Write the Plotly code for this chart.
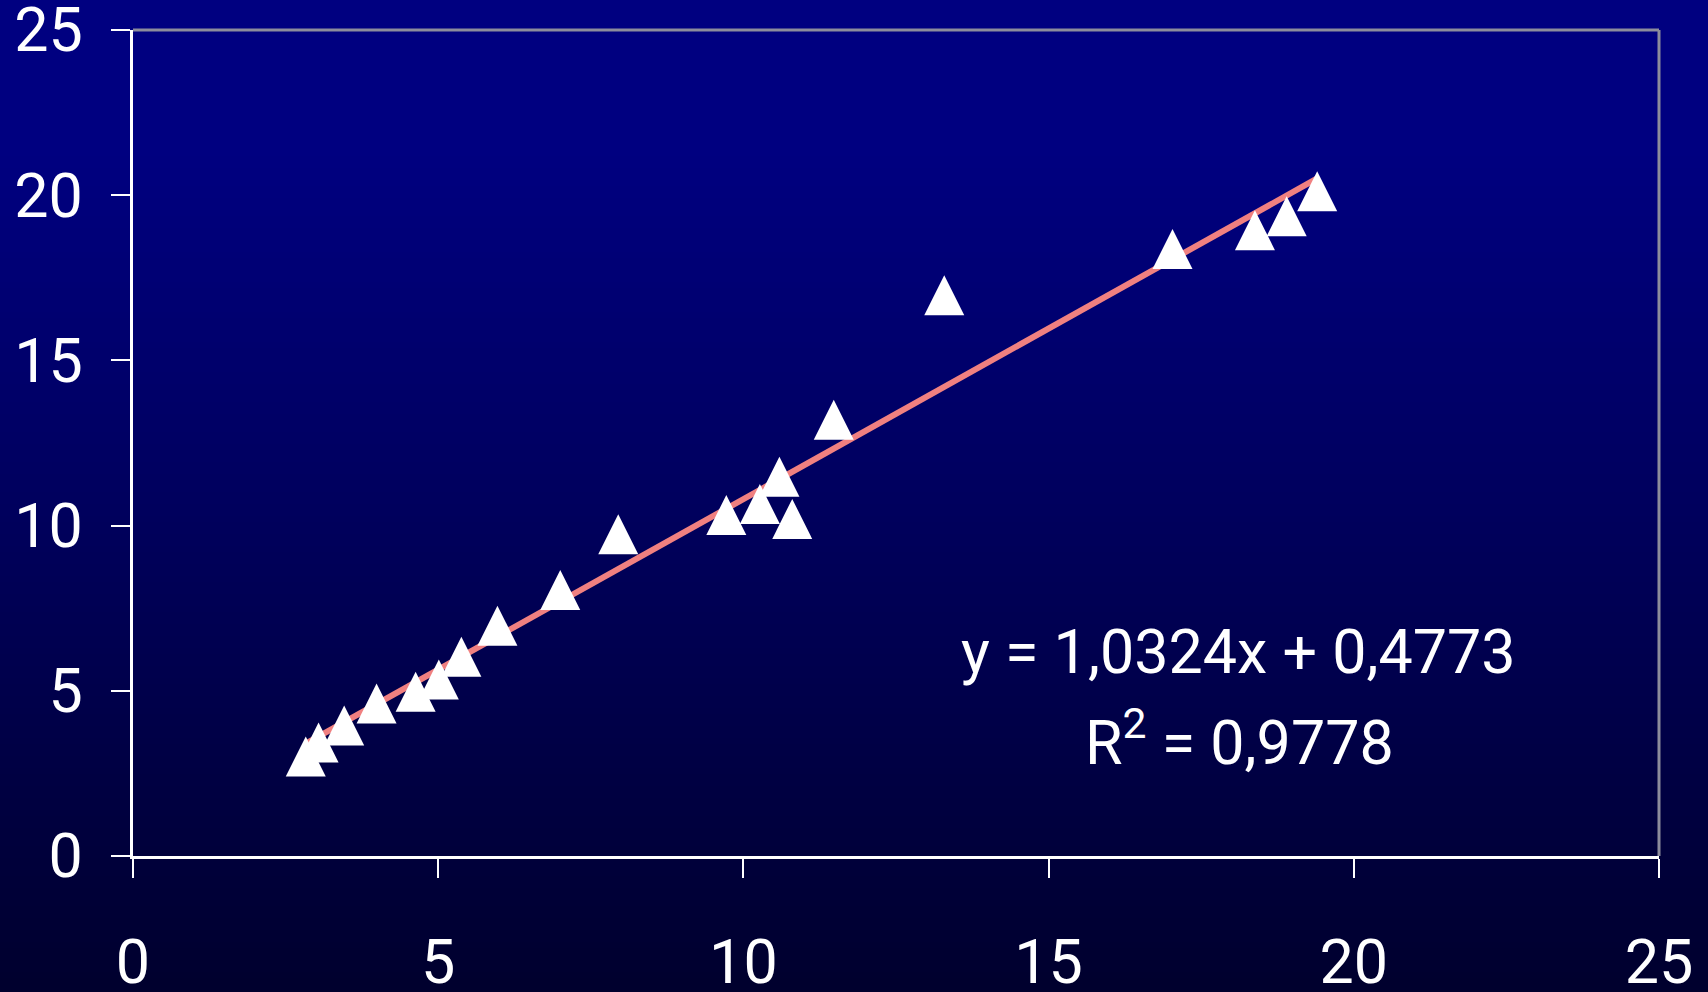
import plotly.graph_objects as go

# ---- data ----
x_vals = [2.83, 3.04, 3.46, 3.99, 4.63, 5.01, 5.38, 5.97, 7.00, 7.95,
          9.72, 10.27, 10.59, 10.80, 11.48, 13.29, 17.03, 18.38, 18.90, 19.40]
y_vals = [2.81, 3.23, 3.75, 4.41, 4.77, 5.14, 5.83, 6.77, 7.85, 9.54,
          10.12, 10.45, 11.28, 10.00, 13.00, 16.77, 18.17, 18.74, 19.16, 19.92]
slope = 1.0324
intercept = 0.4773
r_squared = 0.9778
tick_vals = [0, 5, 10, 15, 20, 25]
tick_text = ["0", "5", "10", "15", "20", "25"]

W, H = 1708, 992
ML, MR, MT, MB = 133, 49, 30, 136
PW, PH = W - ML - MR, H - MT - MB

FONT = "Roboto"

# trendline endpoints from the regression shown in the chart
tx = [min(x_vals), max(x_vals)]
ty = [slope * v + intercept for v in tx]

fig = go.Figure()

fig.add_trace(go.Scatter(
    x=tx, y=ty, mode="lines",
    line=dict(color="#F08080", width=6),
    hoverinfo="skip", showlegend=False,
))

MS = 40
fig.add_trace(go.Scatter(
    x=x_vals, y=y_vals, mode="markers",
    marker=dict(symbol="arrow-down", angle=180, standoff=MS / 2 * 4 / 3,
                size=MS, color="white", line=dict(width=0)),
    showlegend=False,
))

# background vertical gradient (navy -> dark navy) via stacked rectangles
shapes = []
top_c, bot_c = 128, 45
start = 150
step = 6
ypix = 0
while ypix < H:
    if ypix < start:
        b = top_c
    else:
        b = top_c + (bot_c - top_c) * (ypix - start) / (H - start)
    y0p = 1 + (MT - ypix) / PH
    shapes.append(dict(
        type="rect", xref="paper", yref="paper", layer="below",
        x0=-ML / PW - 0.01, x1=1 + MR / PW + 0.01,
        y0=-MB / PH - 0.01, y1=y0p + (0.01 if ypix == 0 else 0),
        fillcolor=f"rgb(0,0,{int(round(b))})", line=dict(width=0),
    ))
    ypix += step

# gray frame on top and right
shapes.append(dict(type="line", xref="paper", yref="paper", x0=0, x1=1, y0=1, y1=1,
                   line=dict(color="#8C8C9C", width=3)))
shapes.append(dict(type="line", xref="paper", yref="paper", x0=1, x1=1, y0=0, y1=1,
                   line=dict(color="#8C8C9C", width=3)))

fig.update_layout(
    width=W, height=H,
    margin=dict(l=ML, r=MR, t=MT, b=MB, autoexpand=False),
    paper_bgcolor="rgb(0,0,45)",
    plot_bgcolor="rgba(0,0,0,0)",
    shapes=shapes,
    font=dict(family=FONT, color="white", size=61),
    xaxis=dict(range=[0, 25], tickvals=tick_vals, ticktext=tick_text,
               showgrid=False, zeroline=False, showline=True, linecolor="white",
               linewidth=3, ticks="outside", ticklen=19, tickwidth=2, tickcolor="white",
               ticklabelstandoff=32, ticklabeloverflow="allow", automargin=False,
               tickfont=dict(family=FONT, size=61, color="white")),
    yaxis=dict(range=[0, 25], tickvals=tick_vals, ticktext=tick_text,
               showgrid=False, zeroline=False, showline=True, linecolor="white",
               linewidth=3, ticks="outside", ticklen=19, tickwidth=2, tickcolor="white",
               ticklabelstandoff=16, ticklabeloverflow="allow", automargin=False,
               tickfont=dict(family=FONT, size=61, color="white")),
    annotations=[
        dict(x=(1238 - ML) / PW, y=1 - (652 - MT) / PH, xref="paper", yref="paper",
             text=f"y = {slope:.4f}x + {intercept:.4f}".replace(".", ","),
             showarrow=False, xanchor="center", yanchor="middle",
             font=dict(family=FONT, size=61, color="white")),
        dict(x=(1239 - ML) / PW, y=1 - (738 - MT) / PH, xref="paper", yref="paper",
             text=f"R<sup>2</sup> = {r_squared:.4f}".replace(".", ","),
             showarrow=False, xanchor="center", yanchor="middle",
             font=dict(family=FONT, size=61, color="white")),
    ],
)

fig.write_html(
    "out.html",
    config={"displayModeBar": False},
    post_script="document.body.style.margin='0';document.body.style.overflow='hidden';",
)
